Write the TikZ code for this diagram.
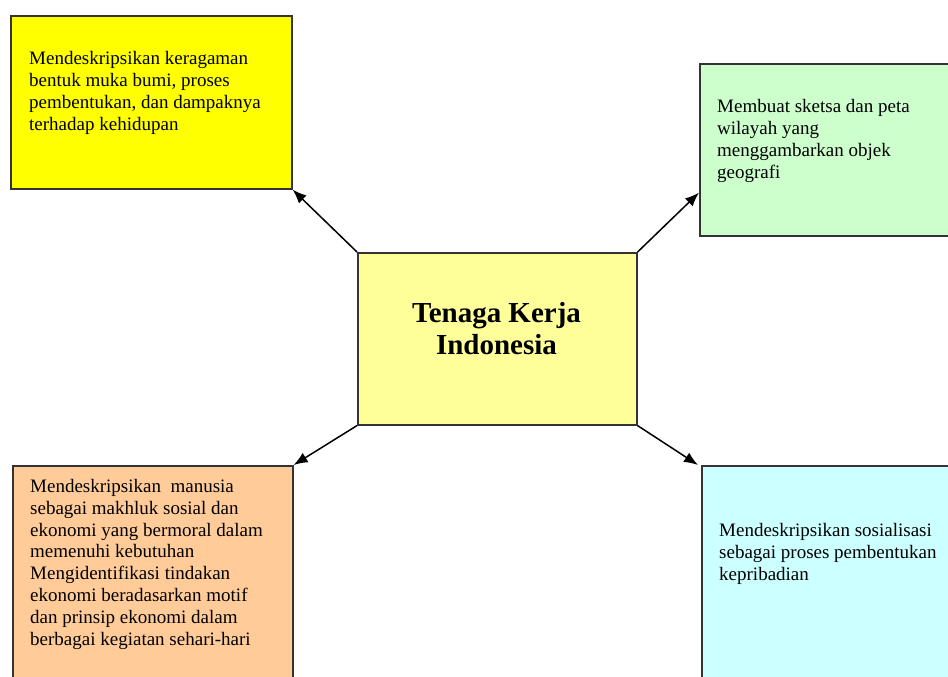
\documentclass[tikz,border=0pt]{standalone}
\usepackage{fontspec}
\setmainfont{Liberation Serif}
\usetikzlibrary{arrows.meta}
\definecolor{bordc}{HTML}{333333}
\definecolor{cyel}{HTML}{FFFF00}
\definecolor{cgrn}{HTML}{CCFFCC}
\definecolor{cctr}{HTML}{FFFF99}
\definecolor{corg}{HTML}{FFCC99}
\definecolor{ccyn}{HTML}{CCFFFF}
\tikzset{
  box/.style={draw=bordc, line width=1.6pt, rectangle, inner sep=0pt, anchor=north west},
  btxt/.style={anchor=base west, inner sep=0pt, align=left, font=\fontsize{19}{21.8}\selectfont},
  ctxt/.style={anchor=base, inner sep=0pt, align=center, font=\fontsize{29}{32}\selectfont\bfseries},
  arr/.style={draw=black, line width=1.5pt, -{Latex[length=14pt,width=11pt]}}
}
\begin{document}
\begin{tikzpicture}[x=1pt,y=-1pt]
\useasboundingbox (0,0) rectangle (948,677);
\clip (0,0) rectangle (948,677);
\fill[white] (0,0) rectangle (948,677);
% boxes
\node[box, fill=cyel, minimum width=281pt, minimum height=173pt] (b1) at (10,15) {};
\node[box, fill=cgrn, minimum width=270pt, minimum height=172pt] (b2) at (699,63) {};
\node[box, fill=cctr, minimum width=279pt, minimum height=172pt] (c) at (357,252) {};
\node[box, fill=corg, minimum width=280pt, minimum height=240pt] (b3) at (12,465) {};
\node[box, fill=ccyn, minimum width=270pt, minimum height=240pt] (b4) at (701,465) {};
% texts (anchored at the baseline of the last line)
\node[btxt] (t1) at (29,130) {Mendeskripsikan keragaman\\bentuk muka bumi, proses\\pembentukan, dan dampaknya\\terhadap kehidupan};
\node[btxt] (t2) at (717,178) {Membuat sketsa dan peta\\wilayah yang\\menggambarkan objek\\geografi};
\node[ctxt] (tc) at (496.5,354) {Tenaga Kerja\\Indonesia};
\node[btxt] (t3) at (30,645) {Mendeskripsikan\ \ manusia\\sebagai makhluk sosial dan\\ekonomi yang bermoral dalam\\memenuhi kebutuhan\\Mengidentifikasi tindakan\\ekonomi beradasarkan motif\\dan prinsip ekonomi dalam\\berbagai kegiatan sehari-hari};
\node[btxt] (t4) at (719,580) {Mendeskripsikan sosialisasi\\sebagai proses pembentukan\\kepribadian};
% arrows
\draw[arr] (c.north west) -- (b1.south east);
\draw[arr] (c.north east) -- ([yshift=44pt]b2.south west);
\draw[arr] (c.south west) -- (b3.north east);
\draw[arr] (c.south east) -- ([xshift=-3pt]b4.north west);
\end{tikzpicture}
\end{document}
